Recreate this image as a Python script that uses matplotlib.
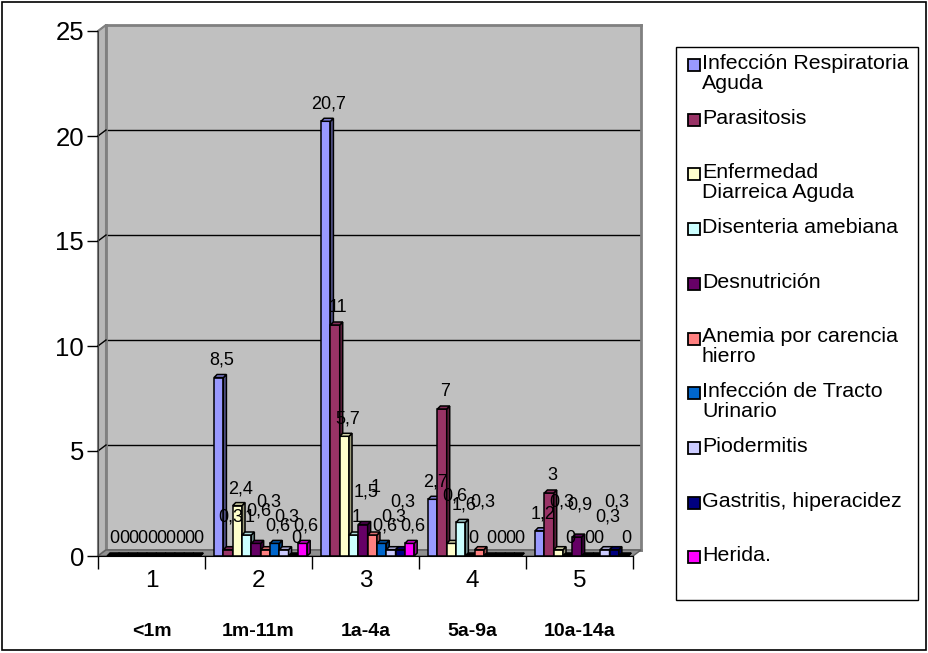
import matplotlib
matplotlib.use("Agg")
from matplotlib import pyplot as plt
from matplotlib.patches import Rectangle, Polygon
from matplotlib.lines import Line2D
import numpy as np

plt.rcParams['font.family'] = ['Liberation Sans', 'DejaVu Sans']

# data
categories = ["1", "2", "3", "4", "5"]
age_groups = ["<1m", "1m-11m", "1a-4a", "5a-9a", "10a-14a"]
series_names = ["Infección Respiratoria\nAguda", "Parasitosis",
                "Enfermedad\nDiarreica Aguda", "Disenteria amebiana",
                "Desnutrición", "Anemia por carencia\nhierro",
                "Infección de Tracto\nUrinario", "Piodermitis",
                "Gastritis, hiperacidez", "Herida."]
ira = [0, 8.5, 20.7, 2.7, 1.2]
parasitosis = [0, 0.3, 11, 7, 3]
eda = [0, 2.4, 5.7, 0.6, 0.3]
disenteria = [0, 1, 1, 1.6, 0]
desnutricion = [0, 0.6, 1.5, 0, 0.9]
anemia = [0, 0.3, 1, 0.3, 0]
itu = [0, 0.6, 0.6, 0, 0]
piodermitis = [0, 0.3, 0.3, 0, 0.3]
gastritis = [0, 0, 0.3, 0, 0.3]
herida = [0, 0.6, 0.6, 0, 0]
all_series = [ira, parasitosis, eda, disenteria, desnutricion,
              anemia, itu, piodermitis, gastritis, herida]
colors = ["#9999FF", "#993366", "#FFFFCC", "#CCFFFF", "#660066",
          "#FF8080", "#0066CC", "#CCCCFF", "#000080", "#FF00FF"]

W, H = 929, 653


def fx(x):
    return x / W


def fy(y):
    return 1 - y / H


def shade(c, f):
    r, g, b = matplotlib.colors.to_rgb(c)
    return (r * f, g * f, b * f)


fig = plt.figure(figsize=(W / 100, H / 100), dpi=100)
fig.patches.append(Rectangle((fx(2), fy(650)), fx(924), 1 - fy(648),
                             transform=fig.transFigure, fill=False,
                             edgecolor="black", lw=1.2, zorder=5))

# plot area geometry (pixels)
x_front0, x_front1 = 98, 633
y_zero, y_top = 556, 31
ddx, ddy = 8, 6

# back wall
wall = fig.add_axes([fx(x_front0 + ddx), fy(y_zero - ddy),
                     (x_front1 - x_front0) / W, (y_zero - y_top) / H])
wall.set_facecolor("#C0C0C0")
wall.set_xlim(0.5, 5.5)
wall.set_ylim(0, 25)
wall.set_xticks([])
wall.set_yticks([5, 10, 15, 20])
wall.tick_params(left=False, labelleft=False)
wall.grid(axis="y", color="black", lw=1)
for s in wall.spines.values():
    s.set_color("#808080")
    s.set_linewidth(2)
wall.set_zorder(0)

# side wall and floor
side = Polygon([(fx(x_front0), fy(y_zero)), (fx(x_front0), fy(y_top)),
                (fx(x_front0 + ddx), fy(y_top - ddy)),
                (fx(x_front0 + ddx), fy(y_zero - ddy))],
               closed=True, transform=fig.transFigure,
               facecolor="#B8B8B8", edgecolor="#808080", lw=1.5, zorder=0.5)
floor = Polygon([(fx(x_front0), fy(y_zero)), (fx(x_front1), fy(y_zero)),
                 (fx(x_front1 + ddx), fy(y_zero - ddy)),
                 (fx(x_front0 + ddx), fy(y_zero - ddy))],
                closed=True, transform=fig.transFigure,
                facecolor="#909090", edgecolor="#606060", lw=1, zorder=0.5)
fig.patches.extend([side, floor])
for v in [5, 10, 15, 20, 25]:
    yp = y_zero - v * (y_zero - y_top) / 25
    fig.lines.append(Line2D([fx(x_front0), fx(x_front0 + ddx)],
                            [fy(yp), fy(yp - ddy)], transform=fig.transFigure,
                            color="black" if v < 25 else "#808080", lw=1,
                            zorder=0.6))

# main axes
ax = fig.add_axes([fx(x_front0), fy(y_zero), (x_front1 - x_front0) / W,
                   (y_zero - y_top) / H])
ax.set_zorder(2)
ax.patch.set_visible(False)
ax.set_xlim(0.5, 5.5)
ax.set_ylim(0, 25)
ax.spines["top"].set_visible(False)
ax.spines["right"].set_visible(False)
ax.spines["left"].set_color("#404040")
ax.spines["bottom"].set_color("black")
ax.set_yticks([0, 5, 10, 15, 20, 25])
ax.set_yticklabels(["0", "5", "10", "15", "20", "25"], fontsize=18.5)
ax.tick_params(axis="y", length=8, width=1, pad=2)
ax.set_xticks(np.arange(1, 6))
ax.set_xticklabels(categories, fontsize=17.5)
ax.set_xticks(np.arange(0.5, 6, 1), minor=True)
ax.tick_params(axis="x", which="major", length=0, pad=10)
ax.tick_params(axis="x", which="minor", length=9, width=1)

for i, g in enumerate(age_groups):
    ax.text(i + 1, -0.143, g, transform=ax.get_xaxis_transform(),
            ha="center", va="center", fontsize=14, fontweight="bold")

# 3d-ish bars
px_x = (x_front1 - x_front0) / 5.0
px_y = (y_zero - y_top) / 25.0
bw = 0.087
dx = 3 / px_x
dy = 3 / px_y
for j, vals in enumerate(all_series):
    xs = np.arange(1, 6) - 0.5 + 0.085 + j * bw
    ax.bar(xs, vals, width=bw, align="edge", color=colors[j],
           edgecolor="black", lw=1.1, zorder=3 + j * 0.01, clip_on=False)
    for x0, v in zip(xs, vals):
        x1 = x0 + bw
        top_col = shade(colors[j], 0.85) if v > 0 else "black"
        ax.fill([x1, x1 + dx, x1 + dx, x1], [0, dy, v + dy, v],
                facecolor=shade(colors[j], 0.6), edgecolor="black", lw=1.1,
                zorder=3 + j * 0.01, clip_on=False)
        ax.fill([x0, x1, x1 + dx, x0 + dx], [v, v, v + dy, v + dy],
                facecolor=top_col, edgecolor="black", lw=1.1,
                zorder=3 + j * 0.01, clip_on=False)
        lab = ("%g" % v).replace(".", ",")
        # Excel staggers the labels of the short bars
        off = 4
        if 0 < v < 2:
            off = 4 + (j % 3) * 11
        ax.annotate(lab, (x0 + bw / 2 + dx, v + dy), xytext=(0, off),
                    textcoords="offset points", ha="center", va="bottom",
                    fontsize=13, zorder=10, annotation_clip=False)

# legend
fig.patches.append(Rectangle((fx(676), fy(600)), (918 - 676) / W,
                             (600 - 47) / H, transform=fig.transFigure,
                             fill=False, edgecolor="black", lw=1, zorder=5))
for j, name in enumerate(series_names):
    yc = 65 + j * 54.7
    fig.patches.append(Rectangle((fx(688), fy(yc + 6)), 12 / W, 12 / H,
                                 transform=fig.transFigure,
                                 facecolor=colors[j], edgecolor="black",
                                 lw=1.3, zorder=5))
    fig.text(fx(702), fy(yc - 11), name, ha="left", va="top",
             fontsize=15.4, linespacing=1.04, zorder=5)

fig.savefig("out.png", dpi=100)
